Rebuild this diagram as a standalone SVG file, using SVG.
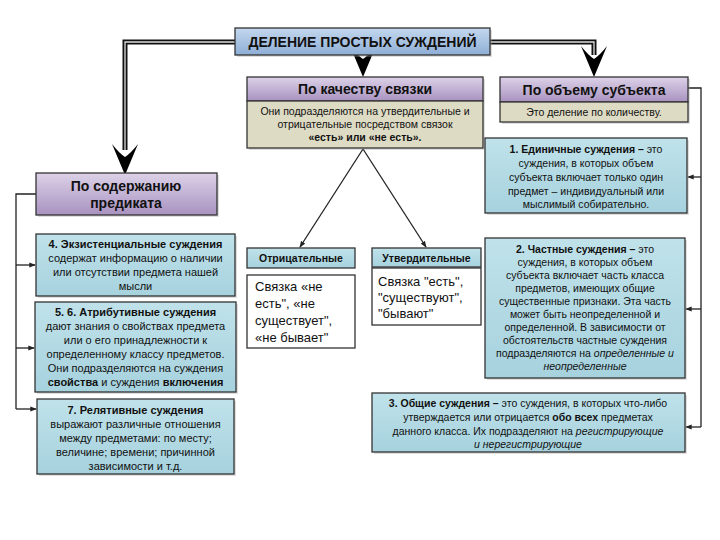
<svg xmlns="http://www.w3.org/2000/svg" width="720" height="540" viewBox="0 0 720 540">
<defs>
<linearGradient id="gPurple" x1="0" y1="0" x2="0" y2="1"><stop offset="0" stop-color="#ddd2e8"/><stop offset="1" stop-color="#a892c0"/></linearGradient>
<linearGradient id="gTitle" x1="0" y1="0" x2="0" y2="1"><stop offset="0" stop-color="#c4d8ee"/><stop offset="1" stop-color="#8eaed6"/></linearGradient>
<linearGradient id="gBlue" x1="0" y1="0" x2="0" y2="1"><stop offset="0" stop-color="#c0e2ea"/><stop offset="1" stop-color="#a6d2de"/></linearGradient>
<marker id="sa" viewBox="0 0 8 8" refX="7" refY="4" markerWidth="5" markerHeight="5" orient="auto"><path d="M0,1 L8,4 L0,7 z" fill="#222"/></marker>
<path id="bigArrow" d="M0,0 L-13,-31 Q-6,-22 0,-18 Q6,-22 13,-31 Z"/>
</defs>
<style>
text{font-family:"Liberation Sans",Arial,sans-serif;fill:#111;text-anchor:middle}
.hd{font-size:14px;font-weight:bold}
.bx{stroke:#333;stroke-width:1.3}
.sh{fill:#a0a0a0;opacity:.35}
.t{font-size:10.5px}
.b{font-weight:bold}
.i{font-style:italic}
.thin{fill:none;stroke:#222;stroke-width:1.3}
.big{font-size:13px;text-anchor:start}
</style>
<rect width="720" height="540" fill="#fff"/>

<g id="connectors">
<path d="M235,42 H125 V150" fill="none" stroke="#111" stroke-width="5"/>
<path d="M235,42 H125 V150" fill="none" stroke="#ddd" stroke-width="1.3"/>
<path d="M490,42 H594 V55" fill="none" stroke="#111" stroke-width="5"/>
<path d="M490,42 H594 V55" fill="none" stroke="#ddd" stroke-width="1.3"/>
<use href="#bigArrow" x="125" y="175" fill="#000"/>
<use href="#bigArrow" x="363" y="77" fill="#000"/>
<use href="#bigArrow" x="594" y="77" fill="#000"/>
<path d="M363,149 L300,247" class="thin" marker-end="url(#sa)"/>
<path d="M363,149 L426,247" class="thin" marker-end="url(#sa)"/>
<path d="M36,194 H16 V409" class="thin"/>
<path d="M16,265 H35" class="thin" marker-end="url(#sa)"/>
<path d="M16,348 H34" class="thin" marker-end="url(#sa)"/>
<path d="M16,409 H36" class="thin" marker-end="url(#sa)"/>
<path d="M688,88 H701 V427" class="thin"/>
<path d="M701,177 H688" class="thin" marker-end="url(#sa)"/>
<path d="M701,309 H686" class="thin" marker-end="url(#sa)"/>
<path d="M701,427 H686" class="thin" marker-end="url(#sa)"/>
</g>

<g id="title">
<rect x="237" y="30" width="255" height="27" class="sh"/>
<rect x="235" y="28" width="255" height="27" fill="url(#gTitle)" class="bx"/>
<text x="362.5" y="47" class="hd">ДЕЛЕНИЕ ПРОСТЫХ СУЖДЕНИЙ</text>
</g>

<g id="quality">
<rect x="249" y="79" width="236" height="71" class="sh"/>
<rect x="247" y="77" width="236" height="24" fill="url(#gPurple)" class="bx"/>
<rect x="247" y="101" width="236" height="47" fill="#dedbc4" class="bx"/>
<text x="365" y="94" class="hd">По качеству связки</text>
<text x="365" y="115" class="t">Они подразделяются на утвердительные и</text>
<text x="365" y="128" class="t">отрицательные посредством связок</text>
<text x="365" y="141" class="t b">«есть» или «не есть».</text>
</g>

<g id="volume">
<rect x="502" y="79" width="188" height="45" class="sh"/>
<rect x="500" y="77" width="188" height="25" fill="url(#gPurple)" class="bx"/>
<rect x="500" y="102" width="188" height="20" fill="#dedbc4" class="bx"/>
<text x="594" y="95" class="hd">По объему субъекта</text>
<text x="594" y="116" class="t">Это деление по количеству.</text>
</g>

<g id="predicate">
<rect x="38" y="175" width="181" height="42" class="sh"/>
<rect x="36" y="173" width="181" height="42" fill="url(#gPurple)" class="bx"/>
<text x="126" y="191" class="hd">По содержанию</text>
<text x="126" y="208" class="hd">предиката</text>
</g>

<g id="negative">
<rect x="247" y="248" width="108" height="20" fill="url(#gBlue)" class="bx"/>
<text x="301" y="262" class="t b">Отрицательные</text>
<rect x="247" y="275" width="108" height="73" fill="#fff" class="bx"/>
<text x="255" y="291" class="big">Связка «не</text>
<text x="255" y="308" class="big">есть",  «не</text>
<text x="255" y="325" class="big">существует",</text>
<text x="255" y="342" class="big">«не бывает"</text>
</g>

<g id="affirmative">
<rect x="372" y="248" width="109" height="19" fill="url(#gBlue)" class="bx"/>
<text x="426.5" y="262" class="t b">Утвердительные</text>
<rect x="372" y="268" width="109" height="57" fill="#fff" class="bx"/>
<text x="378" y="286" class="big">Связка "есть",</text>
<text x="378" y="302" class="big">"существуют",</text>
<text x="378" y="318" class="big">"бывают"</text>
</g>

<g id="single">
<rect x="487" y="140" width="202" height="75" class="sh"/>
<rect x="485" y="138" width="202" height="75" fill="url(#gBlue)" class="bx"/>
<text x="586" y="153" class="t"><tspan class="b">1. Единичные суждения –</tspan> это</text>
<text x="586" y="167" class="t">суждения, в которых объем</text>
<text x="586" y="181" class="t">субъекта включает только один</text>
<text x="586" y="195" class="t">предмет – индивидуальный или</text>
<text x="586" y="208" class="t">мыслимый собирательно.</text>
</g>

<g id="partial">
<rect x="487" y="240" width="200" height="140" class="sh"/>
<rect x="485" y="238" width="200" height="140" fill="url(#gBlue)" class="bx"/>
<text x="585" y="253" class="t"><tspan class="b">2. Частные суждения – </tspan> это</text>
<text x="585" y="266" class="t">суждения, в которых объем</text>
<text x="585" y="279" class="t">субъекта включает часть класса</text>
<text x="585" y="292" class="t">предметов, имеющих общие</text>
<text x="585" y="305" class="t">существенные признаки. Эта часть</text>
<text x="585" y="318" class="t">может быть неопределенной и</text>
<text x="585" y="331" class="t">определенной. В зависимости от</text>
<text x="585" y="344" class="t">обстоятельств частные суждения</text>
<text x="585" y="357" class="t">подразделяются на <tspan class="i">определенные и</tspan></text>
<text x="585" y="370" class="t i">неопределенные</text>
</g>

<g id="general">
<rect x="374" y="395" width="313" height="59" class="sh"/>
<rect x="372" y="393" width="313" height="59" fill="url(#gBlue)" class="bx"/>
<text x="528" y="407" class="t"><tspan class="b">3. Общие суждения – </tspan> это суждения, в которых что-либо</text>
<text x="528" y="421" class="t">утверждается или отрицается <tspan class="b">обо всех</tspan> предметах</text>
<text x="528" y="435" class="t">данного класса. Их подразделяют на <tspan class="i">регистрирующие</tspan></text>
<text x="528" y="448" class="t i">и нерегистрирующие</text>
</g>

<g id="existential">
<rect x="38" y="236" width="199" height="62" class="sh"/>
<rect x="36" y="234" width="199" height="62" fill="url(#gBlue)" class="bx"/>
<text x="135.5" y="248" style="font-size:11px" class="b">4. Экзистенциальные суждения</text>
<text x="135.5" y="262" style="font-size:11px">содержат информацию о наличии</text>
<text x="135.5" y="276" style="font-size:11px">или отсутствии предмета нашей</text>
<text x="135.5" y="290" style="font-size:11px">мысли</text>
</g>

<g id="attributive">
<rect x="37" y="304" width="201" height="90" class="sh"/>
<rect x="35" y="302" width="201" height="90" fill="url(#gBlue)" class="bx"/>
<text x="135.5" y="316" style="font-size:11px" class="b">5. 6. Атрибутивные суждения</text>
<text x="135.5" y="330" style="font-size:11px">дают знания о свойствах предмета</text>
<text x="135.5" y="344" style="font-size:11px">или о его принадлежности к</text>
<text x="135.5" y="358" style="font-size:11px">определенному классу предметов.</text>
<text x="135.5" y="372" style="font-size:11px">Они подразделяются на суждения</text>
<text x="135.5" y="386" style="font-size:11px"><tspan class="b">свойства</tspan> и суждения <tspan class="b">включения</tspan></text>
</g>

<g id="relative">
<rect x="39" y="401" width="197" height="75" class="sh"/>
<rect x="37" y="399" width="197" height="75" fill="url(#gBlue)" class="bx"/>
<text x="135.5" y="414" style="font-size:11px" class="b">7. Релятивные суждения</text>
<text x="135.5" y="428" style="font-size:11px">выражают различные отношения</text>
<text x="135.5" y="442" style="font-size:11px">между предметами: по месту;</text>
<text x="135.5" y="456" style="font-size:11px">величине; времени; причинной</text>
<text x="135.5" y="470" style="font-size:11px">зависимости и т.д.</text>
</g>
</svg>
